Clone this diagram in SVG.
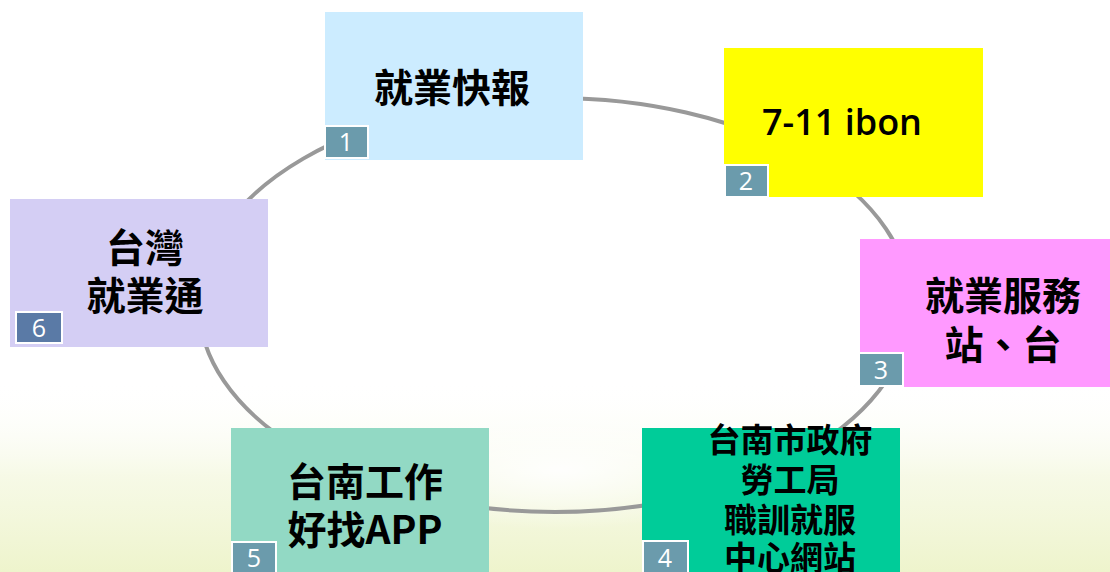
<svg xmlns="http://www.w3.org/2000/svg" width="1110" height="572" viewBox="0 0 1110 572">
<defs>
<linearGradient id="bg" x1="0" y1="0" x2="0" y2="1">
<stop offset="0" stop-color="#ffffff" stop-opacity="0"/>
<stop offset="0.5" stop-color="#f4f8e0" stop-opacity="0.8"/>
<stop offset="1" stop-color="#eef4cc" stop-opacity="1"/>
</linearGradient>
<radialGradient id="glow" cx="0.5" cy="0.5" r="0.5">
<stop offset="0" stop-color="#ffffff" stop-opacity="0.9"/>
<stop offset="1" stop-color="#ffffff" stop-opacity="0"/>
</radialGradient>
</defs>
<style>
.box{stroke:none}
.badge{stroke:#ffffff;stroke-width:2}
.bt{font-family:"Open Sans","Liberation Sans",sans-serif;font-size:25px;fill:#ffffff;text-anchor:middle}
.t{font-family:"Noto Sans CJK TC","Noto Sans CJK SC",sans-serif;font-weight:bold;font-size:39px;fill:#000000;text-anchor:middle}
.t4{font-family:"Noto Sans CJK TC","Noto Sans CJK SC",sans-serif;font-weight:bold;font-size:33px;fill:#000000;text-anchor:middle}
.lat{font-family:"Open Sans","Noto Sans",sans-serif;font-weight:600;font-size:36px;fill:#000000}
</style>
<rect x="0" y="0" width="1110" height="572" fill="#ffffff"/>
<rect x="0" y="380" width="1110" height="192" fill="url(#bg)"/>
<ellipse cx="560" cy="470" rx="200" ry="60" fill="url(#glow)"/>
<g id="connectors">
<ellipse cx="555" cy="305" rx="356" ry="207" fill="none" stroke="#999999" stroke-width="4"/>
</g>
<g id="node1">
<rect class="box" x="325" y="12" width="258" height="148" fill="#CCECFF"/>
<text class="t" x="452" y="102">就業快報</text>
<rect class="badge" x="325" y="126" width="43" height="32" fill="#6B9BAC"/>
<text class="bt" x="346" y="151">1</text>
</g>
<g id="node2">
<rect class="box" x="724" y="48" width="259" height="149" fill="#FFFF00"/>
<text class="lat" x="762" y="135">7-11 ibon</text>
<rect class="badge" x="725" y="165" width="43" height="32" fill="#6B9BAC"/>
<text class="bt" x="746" y="190">2</text>
</g>
<g id="node3">
<rect class="box" x="860" y="239" width="250" height="148" fill="#FF99FF"/>
<text class="t" x="1003" y="310">就業服務</text>
<text class="t" x="1003" y="359">站、台</text>
<rect class="badge" x="859" y="353" width="44" height="33" fill="#6B9BAC"/>
<text class="bt" x="881" y="379">3</text>
</g>
<g id="node4">
<rect class="box" x="642" y="428" width="258" height="144" fill="#00CC99"/>
<text class="t4" x="790" y="452">台南市政府</text>
<text class="t4" x="790" y="492">勞工局</text>
<text class="t4" x="790" y="532">職訓就服</text>
<text class="t4" x="790" y="570">中心網站</text>
<rect class="badge" x="643" y="541" width="45" height="33" fill="#6B9BAC"/>
<text class="bt" x="665" y="567">4</text>
</g>
<g id="node5">
<rect class="box" x="231" y="428" width="258" height="144" fill="#92D9C4"/>
<text class="t" x="365" y="496">台南工作</text>
<text class="t" x="365" y="544">好找APP</text>
<rect class="badge" x="232" y="542" width="44" height="32" fill="#6B9BAC"/>
<text class="bt" x="254" y="567">5</text>
</g>
<g id="node6">
<rect class="box" x="10" y="199" width="258" height="148" fill="#D4CEF4"/>
<text class="t" x="145" y="262">台灣</text>
<text class="t" x="145" y="310">就業通</text>
<rect class="badge" x="16" y="312" width="46" height="31" fill="#5A7AA6"/>
<text class="bt" x="39" y="337">6</text>
</g>
</svg>
